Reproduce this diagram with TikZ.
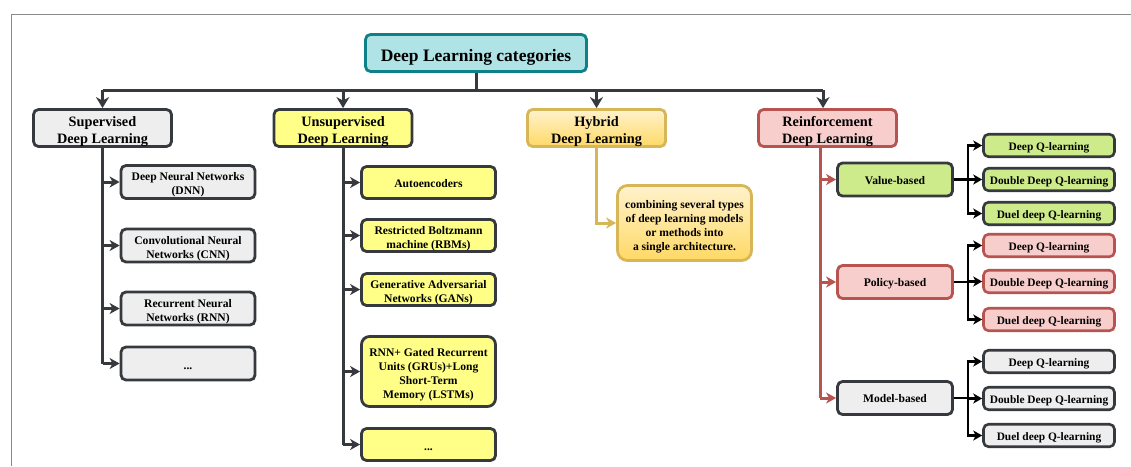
\documentclass[tikz,border=0pt]{standalone}
\usepackage{fontspec}
\setmainfont{Liberation Serif}
\usetikzlibrary{arrows.meta,calc}
\definecolor{dline}{HTML}{36393D}
\definecolor{tealfill}{HTML}{B0E3E6}
\definecolor{tealline}{HTML}{0E8088}
\definecolor{grayfill}{HTML}{EEEEEE}
\definecolor{yelfill}{HTML}{FFFF88}
\definecolor{hybtop}{HTML}{FFF2CC}
\definecolor{hybbot}{HTML}{FFD966}
\definecolor{hybline}{HTML}{D6B656}
\definecolor{redfill}{HTML}{F8CECC}
\definecolor{redline}{HTML}{B85450}
\definecolor{grnfill}{HTML}{CDEB8B}
\definecolor{frame}{HTML}{8A8A8A}
\newcommand\lowtext[2][3pt]{\raisebox{-#1}[\height][\depth]{\begin{tabular}{@{}c@{}}#2\end{tabular}}}
\tikzset{
  box/.style={draw=dline, line width=2.8pt, rounded corners=5pt, inner sep=1pt, font=\bfseries\fontsize{11.6}{14}\selectfont},
  head/.style={box, minimum width=138pt, minimum height=37pt, font=\bfseries\fontsize{14.3}{17}\selectfont},
  kid/.style={box, minimum width=134pt, minimum height=33pt},
  leaf/.style={box, minimum width=131pt, minimum height=22.5pt, line width=2.6pt, font=\bfseries\fontsize{11.4}{13}\selectfont},
  mid/.style={box, minimum width=115pt, minimum height=33pt},
  conn/.style={draw=dline, line width=3pt},
  arr/.style={conn, -{Stealth[length=11pt,width=13pt,inset=3.5pt]}},
  karr/.style={conn, -{Stealth[length=10pt,width=11pt,inset=3pt]}},
  sarr/.style={line width=3pt, -{Stealth[length=10pt,width=11pt,inset=3pt]}},
  barr/.style={draw=black, line width=2.6pt, -{Stealth[length=9pt,width=10pt,inset=2.5pt]}},
}
\begin{document}
\begin{tikzpicture}[x=1pt,y=-1pt]
\useasboundingbox (0,0) rectangle (1131,466);
\draw[frame, line width=1pt] (11,466) -- (11,14) -- (1131,14);

% title and categories
\node[box, draw=tealline, fill=tealfill, minimum width=221pt, minimum height=37pt, font=\bfseries\fontsize{17.5}{20}\selectfont] (title) at (476,53) {\lowtext[4pt]{Deep Learning categories}};
\node[head, fill=grayfill] (sup) at (102.5,128) {\lowtext[4pt]{Supervised\\Deep Learning}};
\node[head, fill=yelfill] (uns) at (343,128) {\lowtext[4pt]{Unsupervised\\Deep Learning}};
\node[head, draw=hybline, top color=hybtop, bottom color=hybbot] (hyb) at (596.5,128) {\lowtext[4pt]{Hybrid\\Deep Learning}};
\node[head, draw=redline, fill=redfill] (rei) at (827.5,128) {\lowtext[4pt]{Reinforcement\\Deep Learning}};

\coordinate (bus) at (476,90);
\coordinate (reibus) at (823,90);
\draw[conn] (title.south) -- (bus);
\draw[conn] (sup.north |- bus) -- (reibus);
\draw[arr] (sup.north |- bus) -- (sup.north);
\draw[arr] (uns.north |- bus) -- (uns.north);
\draw[arr] (hyb.north |- bus) -- (hyb.north);
\draw[arr] (reibus) -- (reibus |- rei.north);

% supervised
\node[kid, fill=grayfill] (dnn) at (188,182) {\lowtext{Deep Neural Networks\\(DNN)}};
\node[kid, fill=grayfill] (cnn) at (188,245.5) {\lowtext{Convolutional Neural\\Networks (CNN)}};
\node[kid, fill=grayfill] (rnn) at (188,308.5) {\lowtext{Recurrent Neural\\Networks (RNN)}};
\node[kid, fill=grayfill] (sdots) at (188,363.5) {\lowtext{...}};
\draw[conn] (sup.south) -- (sup.south |- sdots.west);
\foreach \n in {dnn,cnn,rnn,sdots} \draw[karr] (sup.south |- \n.west) -- (\n.west);

% unsupervised
\node[kid, fill=yelfill, minimum height=32pt] (auto) at (428.5,182.5) {\lowtext[2pt]{Autoencoders}};
\node[kid, fill=yelfill, minimum height=32pt] (rbm) at (428.5,235.5) {\lowtext{Restricted Boltzmann\\machine (RBMs)}};
\node[kid, fill=yelfill, minimum height=32pt] (gan) at (428.5,289.5) {\lowtext{Generative Adversarial\\Networks (GANs)}};
\node[kid, fill=yelfill, minimum height=70pt, rounded corners=8pt] (rnng) at (428.5,371.5) {\lowtext{RNN+ Gated Recurrent\\Units (GRUs)+Long\\Short-Term\\Memory (LSTMs)}};
\node[kid, fill=yelfill, minimum height=32pt] (udots) at (428.5,444.5) {\lowtext{...}};
\draw[conn] (uns.south) -- (uns.south |- udots.west);
\foreach \n in {auto,rbm,gan,rnng,udots} \draw[karr] (uns.south |- \n.west) -- (\n.west);

% hybrid
\node[box, draw=hybline, top color=hybtop, bottom color=hybbot, rounded corners=10pt, minimum width=134pt, minimum height=75pt] (htxt) at (684.5,223) {\lowtext[4pt]{combining several types\\of deep learning models\\or methods into\\a single architecture.}};
\draw[sarr, draw=hybline] (hyb.south) |- (htxt.west);

% reinforcement
\node[mid, fill=grnfill] (val) at (895,179.5) {\lowtext[2pt]{Value-based}};
\node[mid, draw=redline, fill=redfill] (pol) at (895,282) {\lowtext[2pt]{Policy-based}};
\node[mid, fill=grayfill] (mod) at (895,398) {\lowtext[2pt]{Model-based}};
\coordinate (rx) at (820,0);
\coordinate (rtop) at (rx |- rei.south);
\draw[draw=redline, line width=3pt] (rtop) -- (rtop |- mod.west);
\foreach \n in {val,pol} \draw[sarr, draw=redline] (rtop |- \n.west) -- (\n.west);
\draw[sarr, draw=redline] (rtop |- mod.west) -- (mod.west);

\node[leaf, fill=grnfill] (v1) at (1049,145.5) {\lowtext[2.5pt]{Deep Q-learning}};
\node[leaf, fill=grnfill] (v2) at (1049,179.5) {\lowtext[2.5pt]{Double Deep Q-learning}};
\node[leaf, fill=grnfill] (v3) at (1049,213.5) {\lowtext[2.5pt]{Duel deep Q-learning}};
\node[leaf, draw=redline, fill=redfill] (p1) at (1049,245.5) {\lowtext[2.5pt]{Deep Q-learning}};
\node[leaf, draw=redline, fill=redfill] (p2) at (1049,281.5) {\lowtext[2.5pt]{Double Deep Q-learning}};
\node[leaf, draw=redline, fill=redfill] (p3) at (1049,319.5) {\lowtext[2.5pt]{Duel deep Q-learning}};
\node[leaf, fill=grayfill] (m1) at (1049,361.5) {\lowtext[2.5pt]{Deep Q-learning}};
\node[leaf, fill=grayfill] (m2) at (1049,398.5) {\lowtext[2.5pt]{Double Deep Q-learning}};
\node[leaf, fill=grayfill] (m3) at (1049,435.5) {\lowtext[2.5pt]{Duel deep Q-learning}};

\foreach \p/\a/\b/\c in {val/v1/v2/v3, pol/p1/p2/p3, mod/m1/m2/m3} {
  \coordinate (br\p) at ($(\p.east)+(14,0)$);
  \draw[black, line width=2.6pt] (\p.east) -- (br\p);
  \draw[barr] (br\p) |- (\a.west);
  \draw[barr] (br\p) -- (br\p |- \b.west) -- (\b.west);
  \draw[barr] (br\p) |- (\c.west);
}
\end{tikzpicture}
\end{document}
